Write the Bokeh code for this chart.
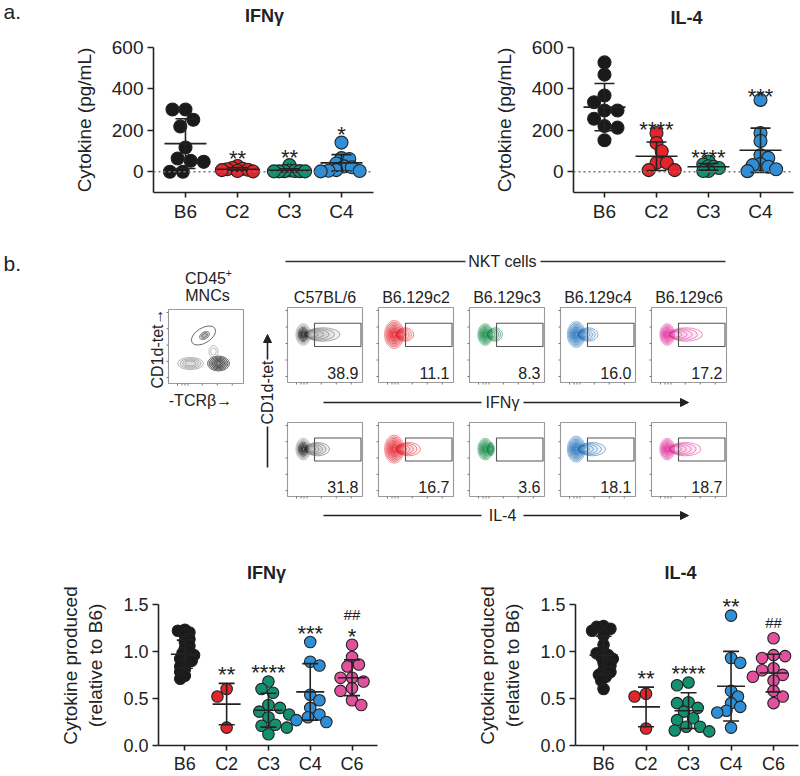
import numpy as np
from bokeh.plotting import figure
from bokeh.layouts import column, row
from bokeh.models import Span, FixedTicker, Arrow, NormalHead, PrintfTickFormatter, Range1d
from bokeh.core.properties import value
from bokeh.embed import file_html
from bokeh.resources import INLINE

FONT = "Liberation Sans"
INK = "#222222"

# ---------------- data: panel a (pg/mL) ----------------
cats_a = ["B6", "C2", "C3", "C4"]
colors_a = ["#1a1a1a", "#e3262c", "#13906f", "#2f8fd6"]
ifng_B6 = [301, 301, 251, 219, 117, 64, 53, 48, 0, 0]
ifng_C2 = [28, 18, 15, 12, 10, 8, 4, 2]
ifng_C3 = [32, 6, 4, 3, 3, 2, 2, 2]
ifng_C4 = [141, 66, 62, 40, 26, 22, 8, 5, 4, 2]
ifng_mean = [136, 12, 7, 43]
ifng_sd = [120, 9, 8, 40]
ifng_stars = ["", "**", "**", "*"]

il4_B6 = [528, 469, 368, 336, 296, 296, 256, 221, 213, 152]
il4_C2 = [187, 139, 99, 43, 43, 8, 8]
il4_C3 = [50, 35, 27, 24, 18, 4, 4]
il4_C4 = [347, 187, 149, 80, 67, 37, 32, 24, 12, 3]
il4_mean = [312, 75, 24, 104]
il4_sd = [114, 69, 16, 107]
il4_stars = ["", "****", "****", "***"]

# ---------------- data: flow panels ----------------
strains = ["C57BL/6", "B6.129c2", "B6.129c3", "B6.129c4", "B6.129c6"]
ifng_pct = [38.9, 11.1, 8.3, 16.0, 17.2]
il4_pct = [31.8, 16.7, 3.6, 18.1, 18.7]
ifng_tail = [70, 47, 44, 50, 68]
il4_tail = [56, 56, 33, 60, 66]
flow_colors = ["#2a2a2a", "#e4202c", "#138a45", "#1f6fb8", "#e0309a"]

# ---------------- data: panel c (relative to B6) ----------------
cats_c = ["B6", "C2", "C3", "C4", "C6"]
colors_c = ["#1a1a1a", "#e3262c", "#13906f", "#2f8fd6", "#e2519e"]
rel_ifng_B6 = [1.23, 1.22, 1.20, 1.17, 1.13, 1.10, 1.06, 1.03, 1.00, 0.98,
               0.96, 0.94, 0.92, 0.90, 0.87, 0.84, 0.81, 0.78, 0.74, 0.71]
rel_ifng_C2 = [0.60, 0.52, 0.19]
rel_ifng_C3 = [0.68, 0.60, 0.56, 0.43, 0.40, 0.36, 0.33, 0.30, 0.22, 0.21, 0.19, 0.12]
rel_ifng_C4 = [1.10, 0.89, 0.85, 0.54, 0.48, 0.40, 0.33, 0.30, 0.27, 0.25]
rel_ifng_C6 = [1.07, 0.94, 0.86, 0.84, 0.72, 0.72, 0.68, 0.61, 0.58, 0.48, 0.43]
rel_ifng_mean = [0.97, 0.44, 0.375, 0.57, 0.72]
rel_ifng_sd = [0.15, 0.22, 0.18, 0.30, 0.19]
rel_ifng_stars = ["", "**", "****", "***", "*"]
rel_ifng_hash = ["", "", "", "", "##"]

rel_il4_B6 = [1.27, 1.26, 1.24, 1.22, 1.17, 1.07, 1.00, 0.98, 0.96, 0.94,
              0.92, 0.88, 0.85, 0.80, 0.78, 0.75, 0.73, 0.69, 0.60]
rel_il4_C2 = [0.55, 0.52, 0.18]
rel_il4_C3 = [0.67, 0.64, 0.46, 0.45, 0.40, 0.36, 0.29, 0.27, 0.20, 0.20, 0.16, 0.15]
rel_il4_C4 = [1.38, 0.93, 0.88, 0.58, 0.52, 0.45, 0.41, 0.37, 0.35, 0.19]
rel_il4_C6 = [1.14, 0.96, 0.95, 0.93, 0.82, 0.80, 0.75, 0.73, 0.69, 0.58, 0.52, 0.45]
rel_il4_mean = [0.96, 0.41, 0.37, 0.63, 0.77]
rel_il4_sd = [0.20, 0.21, 0.19, 0.37, 0.20]
rel_il4_stars = ["", "**", "****", "**", ""]
rel_il4_hash = ["", "", "", "", "##"]


def swarm(vals, ppx, ppy, d, factor):
    n = len(vals)
    offs = [0.0] * n
    placed = []
    order = sorted(range(n), key=lambda i: -vals[i])
    step = d * 0.2
    md2 = (d * factor) ** 2
    for cnt, i in enumerate(order):
        yp = vals[i] * ppy
        chosen = 0.0
        for k in range(300):
            if k == 0:
                cand = [0.0]
            else:
                cand = [k * step, -k * step] if cnt % 2 == 0 else [-k * step, k * step]
            found = None
            for c in cand:
                if all((c - px) ** 2 + (yp - py) ** 2 >= md2 for px, py in placed):
                    found = c
                    break
            if found is not None:
                chosen = found
                break
        placed.append((chosen, yp))
        offs[i] = chosen / ppx
    return offs


def scatter_panel(cats, groups, colors, means, sds, stars, hashes,
                  width, height, bl, br, bt, bb, x_start, px_per_cat, yr,
                  yticks, ybounds, ylabel, ylab_standoff, fs_tick, fs_lab,
                  dot, factors, pad, hash_gap, mean_hw, cap_hw, dotted, fmt):
    fw = width - bl - br
    fh = height - bt - bb
    x_end = x_start + fw / px_per_cat
    p = figure(width=width, height=height, x_range=Range1d(x_start, x_end),
               y_range=Range1d(*yr), output_backend="svg", toolbar_location=None,
               min_border_left=bl, min_border_right=br, min_border_top=bt,
               min_border_bottom=bb, title=None)
    p.outline_line_color = None
    p.grid.visible = False
    ppx = px_per_cat
    ppy = fh / (yr[1] - yr[0])

    if dotted:
        p.add_layout(Span(location=0, dimension="width", line_color="#777777",
                          line_dash="2 3", line_width=1.6))

    xs, ys, cs = [], [], []
    for gi, vals in enumerate(groups):
        offs = swarm(vals, ppx, ppy, dot, factors[gi])
        xs += [gi + o for o in offs]
        ys += list(vals)
        cs += [colors[gi]] * len(vals)
    p.scatter(x=xs, y=ys, size=dot, marker="circle", fill_color=cs,
              line_color=INK, line_width=1.1)

    sx0, sy0, sx1, sy1 = [], [], [], []
    for gi in range(len(groups)):
        m, s = means[gi], sds[gi]
        lo = max(m - s, yr[0])
        sx0 += [gi, gi - cap_hw / ppx, gi - cap_hw / ppx, gi - mean_hw / ppx]
        sx1 += [gi, gi + cap_hw / ppx, gi + cap_hw / ppx, gi + mean_hw / ppx]
        sy0 += [lo, m + s, lo, m]
        sy1 += [m + s, m + s, lo, m]
    p.segment(x0=sx0, y0=sy0, x1=sx1, y1=sy1, line_color=INK, line_width=1.6)

    st_x, st_y, st_t, h_x, h_y, h_t = [], [], [], [], [], []
    for gi, vals in enumerate(groups):
        top = max(max(vals), means[gi] + sds[gi])
        ystar = top + pad
        if stars[gi]:
            st_x.append(gi); st_y.append(ystar); st_t.append(stars[gi])
        if hashes and hashes[gi]:
            h_x.append(gi)
            h_y.append(ystar + hash_gap if stars[gi] else ystar)
            h_t.append(hashes[gi])
    p.text(x=st_x, y=st_y, text=st_t, text_font=value(FONT),
           text_font_size=value("22px"), text_align="center",
           text_baseline="alphabetic", y_offset=12, text_color=INK)
    if h_t:
        p.text(x=h_x, y=h_y, text=h_t, text_font=value(FONT),
               text_font_size=value("15px"), text_align="center",
               text_baseline="alphabetic", y_offset=5, text_color=INK)

    for ax in (p.xaxis[0], p.yaxis[0]):
        ax.axis_line_width = 1.6
        ax.axis_line_color = INK
        ax.major_tick_line_width = 1.6
        ax.major_tick_line_color = INK
        ax.major_tick_in = 0
        ax.minor_tick_out = 0
        ax.minor_tick_in = 0
        ax.major_label_text_font = FONT
        ax.major_label_text_font_size = f"{fs_tick}px"
        ax.major_label_text_color = INK
    p.xaxis.major_tick_out = 5
    p.yaxis.major_tick_out = 6
    p.xaxis.major_label_standoff = 3
    p.yaxis.major_label_standoff = 4
    p.xaxis.ticker = FixedTicker(ticks=list(range(len(cats))))
    p.xaxis.major_label_overrides = {i: c for i, c in enumerate(cats)}
    p.yaxis.ticker = FixedTicker(ticks=yticks)
    p.yaxis.bounds = ybounds
    if fmt:
        p.yaxis.formatter = PrintfTickFormatter(format=fmt)
    p.yaxis.axis_label = ylabel
    p.yaxis.axis_label_text_font = FONT
    p.yaxis.axis_label_text_font_size = f"{fs_lab}px"
    p.yaxis.axis_label_text_font_style = "normal"
    p.yaxis.axis_label_text_color = INK
    p.yaxis.axis_label_standoff = ylab_standoff
    return p


def blank(width, height):
    f = figure(width=width, height=height, x_range=Range1d(0, width),
               y_range=Range1d(height, 0), output_backend="svg",
               toolbar_location=None, min_border=0, title=None,
               x_axis_location=None, y_axis_location=None)
    f.outline_line_color = None
    f.grid.visible = False
    return f


def txt(f, x, y, s, size, align="center", baseline="middle", angle=0.0, bold=False):
    f.text(x=[x], y=[y], text=[s], text_font=value(FONT),
           text_font_size=value(f"{size}px"), text_align=align,
           text_baseline=baseline, angle=angle, text_color=INK,
           text_font_style="bold" if bold else "normal")


W_ALL = 800

# ---------------- top strip: panel letter and titles ----------------
strip = blank(W_ALL, 30)
txt(strip, 3, 11, "a.", 21, align="left")
txt(strip, 264, 15, "IFNγ", 18, bold=True)
txt(strip, 686, 17, "IL-4", 18, bold=True)

# ---------------- band A ----------------
a1 = scatter_panel(cats_a, [ifng_B6, ifng_C2, ifng_C3, ifng_C4], colors_a,
                   ifng_mean, ifng_sd, ifng_stars, None,
                   400, 200, 153, 27, 17, 38, -0.615, 52, (-100, 600),
                   [0, 200, 400, 600], (-100, 600), "Cytokine (pg/mL)", 14, 19, 19,
                   13, [0.95, 0.35, 0.35, 0.5], 95, 0, 21, 10, True, None)
a2 = scatter_panel(cats_a, [il4_B6, il4_C2, il4_C3, il4_C4], colors_a,
                   il4_mean, il4_sd, il4_stars, None,
                   400, 200, 173, 7, 17, 38, -0.596, 52, (-100, 600),
                   [0, 200, 400, 600], (-100, 600), "Cytokine (pg/mL)", 14, 19, 19,
                   13, [0.9, 0.7, 0.35, 0.6], 75, 0, 21, 10, True, None)

# ---------------- band B (flow cytometry + bottom titles) ----------------
BH = 355
fb = blank(W_ALL, BH)

E = {k: [] for k in ["x", "y", "w", "h", "a", "lc", "la", "fc", "fa"]}


def add_ell(x, y, w, h, lc, la, fc="#ffffff", fa=0.0, a=0.0):
    for k, v in zip(["x", "y", "w", "h", "a", "lc", "la", "fc", "fa"],
                    [x, y, w, h, a, lc, la, fc, fa]):
        E[k].append(v)


Q = {k: [] for k in ["l", "r", "t", "b", "c"]}
S = {k: [] for k in ["x0", "y0", "x1", "y1"]}

txt(fb, 3, 33, "b.", 21, align="left")
fb.segment(x0=[285, 540], y0=[31, 31], x1=[465, 725], y1=[31, 31],
           line_color="#333333", line_width=1.6)
txt(fb, 502, 31, "NKT cells", 16)

txt(fb, 205, 48, "CD45", 16)
txt(fb, 225, 42, "+", 11, align="left")
txt(fb, 207, 65, "MNCs", 16)

PANEL_X0 = 287
PANEL_DX = 91
PW = 75
ROW_Y = [77, 192]
ROW_H = [75, 74]

for i, name in enumerate(strains):
    txt(fb, PANEL_X0 + PANEL_DX * i + PW / 2, 67, name, 16)

for r, (pcts, tails) in enumerate([(ifng_pct, ifng_tail), (il4_pct, il4_tail)]):
    for i in range(len(strains)):
        x0 = PANEL_X0 + PANEL_DX * i
        y0 = ROW_Y[r]
        H = ROW_H[r]
        W = PW

        def px(u):
            return x0 + u * W / 100.0

        def py(v):
            return y0 + (100 - v) * H / 100.0

        col = flow_colors[i]
        Q["l"].append(x0); Q["r"].append(x0 + W); Q["t"].append(y0); Q["b"].append(y0 + H)
        Q["c"].append("#9a9a9a")
        for v in [8, 30, 52, 74, 96]:
            S["x0"].append(x0 - 2); S["y0"].append(py(v)); S["x1"].append(x0); S["y1"].append(py(v))
        for u in [12, 18, 22, 26, 45, 65, 85]:
            S["x0"].append(px(u)); S["y0"].append(y0 + H); S["x1"].append(px(u)); S["y1"].append(y0 + H + 2)
        # cytokine+ tail contours
        end = tails[i]
        for k in range(5):
            e = end - k * (end - 30) * 0.18
            cxu = (24 + e) / 2
            rxu = (e - 24) / 2
            ryu = 9.0 - 1.4 * k
            tc = "#777777" if i == 0 else col
            add_ell(px(cxu), py(64), 2 * rxu * W / 100, 2 * ryu * H / 100, tc,
                    0.65 if i else 0.8, tc, 0.05 if i else 0.1)
        # main population contours
        rx = [10, 13, 10, 12, 10][i] * W / 100
        ry = rx * 1.45
        levels = [1.0, 0.88, 0.77, 0.66, 0.55, 0.45, 0.35, 0.25, 0.15]
        for k, s in enumerate(levels):
            if i == 0:
                lc = "#8a8a8a" if k < 3 else "#1e1e1e"
            else:
                lc = col
            add_ell(px(21), py(64), 2 * rx * s, 2 * ry * s, lc, 0.55 + 0.05 * k,
                    lc, 0.1)
        Q["l"].append(px(36)); Q["r"].append(px(98)); Q["t"].append(py(79)); Q["b"].append(py(48))
        Q["c"].append("#555555")
        txt(fb, x0 + W - 4, y0 + H - 10, f"{pcts[i]:.1f}", 16, align="right")

# CD45+ panel
cx0, cy0, cw, ch = 168, 79, 75, 74
Q["l"].append(cx0); Q["r"].append(cx0 + cw); Q["t"].append(cy0); Q["b"].append(cy0 + ch)
Q["c"].append("#9a9a9a")
for v in [8, 30, 52, 74, 96]:
    yy = cy0 + (100 - v) * ch / 100
    S["x0"].append(cx0 - 2); S["y0"].append(yy); S["x1"].append(cx0); S["y1"].append(yy)
for u in [12, 18, 22, 26, 45, 65, 85]:
    xx = cx0 + u * cw / 100
    S["x0"].append(xx); S["y0"].append(cy0 + ch); S["x1"].append(xx); S["y1"].append(cy0 + ch + 2)
add_ell(203, 105, 27, 15, "#333333", 0.9, a=0.55)
for s in [1.0, 0.7, 0.45]:
    add_ell(204, 105, 11 * s, 7 * s, "#555555", 0.8, "#555555", 0.15, a=0.55)
for s in [1.0, 0.8, 0.6, 0.4]:
    add_ell(190, 133, 26 * s, 12 * s, "#8a8a8a", 0.8, "#8a8a8a", 0.08)
for s in [1.0, 0.85, 0.7, 0.55, 0.4, 0.25]:
    add_ell(218, 133, 22 * s, 15 * s, "#2a2a2a", 0.85, "#2a2a2a", 0.12)
for s in [1.0, 0.6]:
    add_ell(213, 121, 9 * s, 12 * s, "#888888", 0.7)

fb.ellipse(x=E["x"], y=E["y"], width=E["w"], height=E["h"], angle=E["a"],
           line_color=E["lc"], line_alpha=E["la"], fill_color=E["fc"],
           fill_alpha=E["fa"], line_width=0.8)
fb.quad(left=Q["l"], right=Q["r"], top=Q["t"], bottom=Q["b"], fill_alpha=0,
        line_color=Q["c"], line_width=1.1)
fb.segment(x0=S["x0"], y0=S["y0"], x1=S["x1"], y1=S["y1"], line_color="#777777",
           line_width=1)

txt(fb, 157, 118, "CD1d-tet→", 16, angle=np.pi / 2)
txt(fb, 200, 170, "-TCRβ→", 16)

fb.segment(x0=[267], y0=[237], x1=[267], y1=[196], line_color=INK, line_width=1.6)
fb.add_layout(Arrow(x_start=267, y_start=129, x_end=267, y_end=104,
                    line_color=INK, line_width=1.6,
                    end=NormalHead(size=8, fill_color=INK, line_color=INK)))
txt(fb, 267, 162, "CD1d-tet", 16, angle=np.pi / 2)

for yy, lab in [(172, "IFNγ"), (285, "IL-4")]:
    fb.segment(x0=[323], y0=[yy], x1=[481], y1=[yy], line_color=INK, line_width=1.6)
    fb.add_layout(Arrow(x_start=523, y_start=yy, x_end=688, y_end=yy,
                        line_color=INK, line_width=1.6,
                        end=NormalHead(size=8, fill_color=INK, line_color=INK)))
    txt(fb, 502, yy, lab, 16)

# titles of the bottom panels
txt(fb, 266, 342, "IFNγ", 18, bold=True)
txt(fb, 680, 342, "IL-4", 18, bold=True)

# ---------------- band C ----------------
c1 = scatter_panel(cats_c,
                   [rel_ifng_B6, rel_ifng_C2, rel_ifng_C3, rel_ifng_C4, rel_ifng_C6],
                   colors_c, rel_ifng_mean, rel_ifng_sd, rel_ifng_stars, rel_ifng_hash,
                   400, 191, 158, 23, 0, 27, -0.63, 41.8, (0, 1.7),
                   [0, 0.5, 1.0, 1.5], (0, 1.5),
                   "Cytokine produced\n(relative to B6)", 14, 18, 19,
                   11.5, [0.45, 1.0, 0.9, 0.85, 0.9], 0.22, 0.16, 14, 8, False, "%.1f")
c2 = scatter_panel(cats_c,
                   [rel_il4_B6, rel_il4_C2, rel_il4_C3, rel_il4_C4, rel_il4_C6],
                   colors_c, rel_il4_mean, rel_il4_sd, rel_il4_stars, rel_il4_hash,
                   400, 191, 175, 2, 0, 27, -0.66, 42.5, (0, 1.7),
                   [0, 0.5, 1.0, 1.5], (0, 1.5),
                   "Cytokine produced\n(relative to B6)", 14, 18, 19,
                   11.5, [0.5, 1.0, 0.9, 0.75, 0.9], 0.22, 0.16, 14, 8, False, "%.1f")

layout = column(strip, row(a1, a2), fb, row(c1, c2))
open("out.html", "w").write(file_html(layout, INLINE))
